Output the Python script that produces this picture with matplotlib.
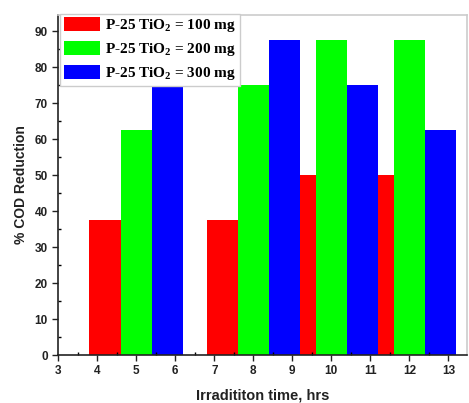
import matplotlib
matplotlib.use("Agg")
import matplotlib.pyplot as plt
from matplotlib.ticker import MultipleLocator

# horas de irradiacao (centro de cada grupo) e reducao de DQO (%)
tempos = [5, 8, 10, 12]
cod_100mg = [37.5, 37.5, 50, 50]
cod_200mg = [62.5, 75, 87.5, 87.5]
cod_300mg = [75, 87.5, 75, 62.5]
rotulos = ['P-25 TiO$_2$ = 100 mg', 'P-25 TiO$_2$ = 200 mg', 'P-25 TiO$_2$ = 300 mg']
cores = ['#ff0000', '#00ff00', '#0000ff']

plt.rcParams['font.family'] = ['Liberation Sans', 'DejaVu Sans']
plt.rcParams['mathtext.fontset'] = 'custom'
plt.rcParams['mathtext.rm'] = 'Liberation Serif:bold'

fig = plt.figure(figsize=(4.69, 4.03), dpi=100)
ax = fig.add_axes([0.1243, 0.119, 0.8707, 0.844])

largura = 0.8
for serie, desloc, cor, rot in zip([cod_100mg, cod_200mg, cod_300mg], [-0.8, 0, 0.8], cores, rotulos):
    ax.bar([t + desloc for t in tempos], serie, width=largura, color=cor, label=rot, linewidth=0)

ax.set_xlim(3, 13.47)
ax.set_ylim(0, 94.6)
ax.xaxis.set_major_locator(MultipleLocator(1))
ax.xaxis.set_minor_locator(MultipleLocator(0.5))
ax.yaxis.set_major_locator(MultipleLocator(10))
ax.yaxis.set_minor_locator(MultipleLocator(5))
ax.tick_params(which='major', direction='out', length=4, width=1, labelsize=8.5, colors='#222222')
ax.tick_params(which='minor', direction='in', length=2.5, width=1)
for lab in ax.get_xticklabels() + ax.get_yticklabels():
    lab.set_fontweight('bold')

for lado in ['left', 'bottom']:
    ax.spines[lado].set_linewidth(1.2)
    ax.spines[lado].set_color('#222222')
for lado in ['top', 'right']:
    ax.spines[lado].set_linewidth(1.2)
    ax.spines[lado].set_color('#cccccc')

ax.set_ylabel('% COD Reduction', fontsize=10, fontweight='bold', color='#222222', labelpad=5)
ax.set_xlabel('Irradititon time, hrs', fontsize=10.5, fontweight='bold', color='#222222', labelpad=8)

leg = ax.legend(loc='upper left', bbox_to_anchor=(0.004, 1.004), borderaxespad=0,
                prop={'family': 'Liberation Serif', 'weight': 'bold', 'size': 11},
                handlelength=2.4, handleheight=1.0, handletextpad=0.3, labelspacing=0.45,
                borderpad=0.25, fancybox=False, framealpha=1, edgecolor='#cccccc')
leg.get_frame().set_linewidth(1.0)

fig.savefig('out.png', dpi=100)
